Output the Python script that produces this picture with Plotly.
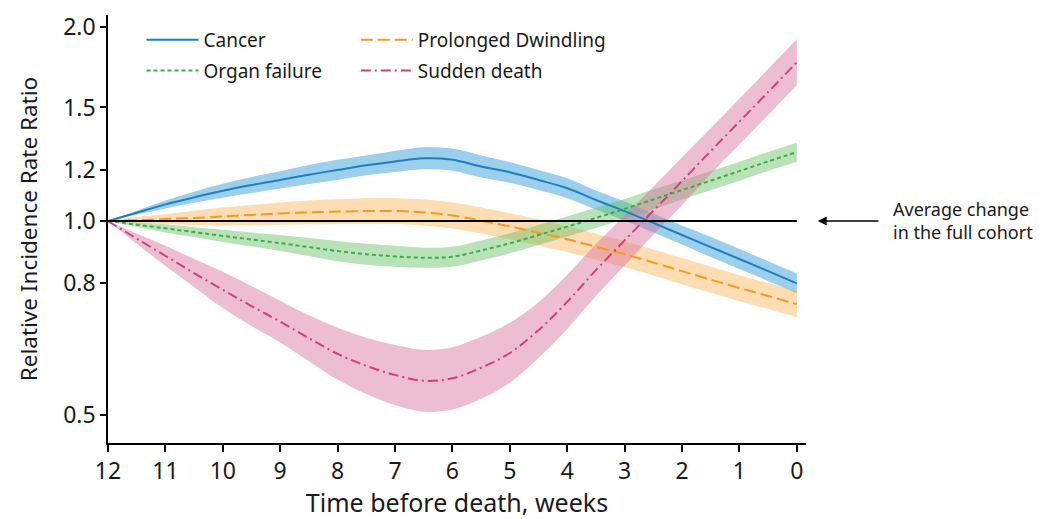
import plotly.graph_objects as go

weeks = [12, 11.5, 11, 10.5, 10, 9.5, 9, 8.5, 8, 7.5, 7, 6.5, 6, 5.5, 5, 4.5, 4, 3.5, 3, 2.5, 2, 1.5, 1, 0.5, 0]

cancer = [1.000, 1.030, 1.061, 1.088, 1.114, 1.137, 1.158, 1.180, 1.200, 1.220, 1.237, 1.251, 1.245,
          1.215, 1.190, 1.158, 1.124, 1.078, 1.036, 0.993, 0.951, 0.911, 0.873, 0.836, 0.800]
cancer_lo = [1.000, 1.023, 1.046, 1.067, 1.087, 1.105, 1.123, 1.141, 1.158, 1.177, 1.191, 1.203, 1.197,
             1.168, 1.146, 1.117, 1.085, 1.042, 1.001, 0.960, 0.919, 0.879, 0.842, 0.807, 0.772]
cancer_hi = [1.000, 1.037, 1.076, 1.110, 1.142, 1.170, 1.194, 1.221, 1.244, 1.264, 1.284, 1.301, 1.295,
             1.264, 1.235, 1.200, 1.165, 1.115, 1.072, 1.027, 0.984, 0.944, 0.905, 0.866, 0.829]

dwindling = [1.000, 1.003, 1.007, 1.011, 1.016, 1.022, 1.027, 1.031, 1.034, 1.036, 1.036, 1.031, 1.020,
             1.001, 0.981, 0.959, 0.937, 0.912, 0.888, 0.862, 0.836, 0.811, 0.787, 0.765, 0.743]
dwindling_lo = [1.000, 0.992, 0.989, 0.986, 0.984, 0.986, 0.987, 0.988, 0.989, 0.989, 0.989, 0.984, 0.974,
                0.956, 0.937, 0.916, 0.895, 0.871, 0.848, 0.823, 0.798, 0.774, 0.751, 0.730, 0.709]
dwindling_hi = [1.000, 1.014, 1.025, 1.037, 1.049, 1.059, 1.068, 1.076, 1.081, 1.085, 1.085, 1.080, 1.068,
                1.049, 1.028, 1.005, 0.982, 0.955, 0.930, 0.903, 0.876, 0.850, 0.824, 0.801, 0.778]

organ = [1.000, 0.987, 0.974, 0.961, 0.948, 0.936, 0.924, 0.911, 0.898, 0.888, 0.881, 0.877, 0.880,
         0.900, 0.923, 0.951, 0.980, 1.011, 1.044, 1.080, 1.117, 1.155, 1.195, 1.237, 1.279]
organ_lo = [1.000, 0.980, 0.960, 0.944, 0.928, 0.913, 0.898, 0.882, 0.866, 0.855, 0.849, 0.846, 0.849,
            0.868, 0.891, 0.918, 0.946, 0.975, 1.007, 1.042, 1.080, 1.116, 1.155, 1.196, 1.236]
organ_hi = [1.000, 0.994, 0.988, 0.978, 0.969, 0.960, 0.951, 0.941, 0.931, 0.922, 0.915, 0.909, 0.912,
            0.933, 0.957, 0.986, 1.016, 1.048, 1.082, 1.119, 1.156, 1.195, 1.236, 1.280, 1.323]

sudden = [1.000, 0.939, 0.883, 0.830, 0.782, 0.738, 0.698, 0.658, 0.622, 0.596, 0.577, 0.565, 0.570,
          0.592, 0.624, 0.677, 0.749, 0.839, 0.933, 1.037, 1.153, 1.284, 1.426, 1.585, 1.763]
sudden_lo = [1.000, 0.922, 0.852, 0.790, 0.733, 0.687, 0.648, 0.606, 0.567, 0.539, 0.518, 0.506, 0.510,
             0.530, 0.561, 0.613, 0.680, 0.765, 0.853, 0.952, 1.058, 1.183, 1.314, 1.460, 1.624]
sudden_hi = [1.000, 0.956, 0.915, 0.873, 0.834, 0.793, 0.752, 0.714, 0.683, 0.659, 0.642, 0.631, 0.637,
             0.661, 0.695, 0.748, 0.825, 0.921, 1.020, 1.130, 1.256, 1.393, 1.548, 1.721, 1.914]

x_ticks = [12, 11, 10, 9, 8, 7, 6, 5, 4, 3, 2, 1, 0]
y_ticks = [0.5, 0.8, 1.0, 1.2, 1.5, 2.0]
y_tick_text = ["0.5", "0.8", "1.0", "1.2", "1.5", "2.0"]

FONT = "Noto Sans"
TXT = "#1a1a1a"

series = [
    ("Cancer", cancer, cancer_lo, cancer_hi, "#1f7fc3", "rgba(58,160,215,0.5)", "solid", "legend"),
    ("Prolonged Dwindling", dwindling, dwindling_lo, dwindling_hi, "#f29a26", "rgba(250,175,70,0.42)", "12px,5px", "legend2"),
    ("Organ failure", organ, organ_lo, organ_hi, "#3aae45", "rgba(100,190,100,0.45)", "4px,3px", "legend"),
    ("Sudden death", sudden, sudden_lo, sudden_hi, "#d2407a", "rgba(215,110,155,0.45)", "10px,4px,2px,4px", "legend2"),
]

fig = go.Figure()
for name, est, lo, hi, col, band, dash, leg in series:
    fig.add_trace(go.Scatter(x=weeks, y=hi, mode="lines", line=dict(width=0, shape="spline", smoothing=1.0),
                             showlegend=False, hoverinfo="skip"))
    fig.add_trace(go.Scatter(x=weeks, y=lo, mode="lines", line=dict(width=0, shape="spline", smoothing=1.0),
                             fill="tonexty", fillcolor=band, showlegend=False, hoverinfo="skip"))

for name, est, lo, hi, col, band, dash, leg in series:
    fig.add_trace(go.Scatter(x=weeks, y=est, mode="lines", name=name, legend=leg, legendgroup=name,
                             line=dict(color=col, width=2, dash=dash, shape="spline", smoothing=1.0)))

fig.add_shape(type="line", xref="x", yref="y", x0=12, x1=0, y0=1.0, y1=1.0,
              line=dict(color="black", width=2), layer="above")

fig.add_annotation(xref="paper", yref="y", x=1.017, y=0, text="", showarrow=True,
                   ax=62, ay=0, axref="pixel", ayref="pixel",
                   arrowhead=2, arrowsize=1.1, arrowwidth=1.6, arrowcolor="black")
fig.add_annotation(xref="paper", yref="y", x=1.122, y=0, text="Average change<br>in the full cohort",
                   showarrow=False, xanchor="left", yanchor="middle", align="left",
                   font=dict(family=FONT, size=18, color=TXT))

legend_common = dict(xanchor="left", yanchor="top", bgcolor="rgba(0,0,0,0)",
                     font=dict(family=FONT, size=19, color=TXT), tracegroupgap=3,
                     orientation="v", itemwidth=52)

fig.update_layout(
    width=1034, height=511,
    margin=dict(l=100, r=236, t=7, b=76),
    paper_bgcolor="white", plot_bgcolor="white",
    font=dict(family=FONT, color=TXT),
    legend=dict(x=0.048, y=0.986, **legend_common),
    legend2=dict(x=0.355, y=0.986, **legend_common),
    xaxis=dict(range=[12, -0.16], tickvals=x_ticks, ticktext=[str(v) for v in x_ticks],
               showgrid=False, zeroline=False, showline=True, linecolor="black", linewidth=1.5,
               ticks="outside", ticklen=7, tickwidth=1.5, tickcolor="black", automargin=False,
               tickfont=dict(family=FONT, size=23, color=TXT),
               title=dict(text="Time before death, weeks", font=dict(family=FONT, size=25, color=TXT),
                          standoff=15)),
    yaxis=dict(type="log", range=[-0.3445, 0.3196], tickvals=y_ticks, ticktext=y_tick_text,
               showgrid=False, zeroline=False, showline=True, linecolor="black", linewidth=1.5,
               ticks="outside", ticklen=6, tickwidth=1.5, tickcolor="black", automargin=False,
               tickfont=dict(family=FONT, size=23, color=TXT),
               title=dict(text="Relative Incidence Rate Ratio", font=dict(family=FONT, size=22.5, color=TXT),
                          standoff=19)),
)

fig.write_html("out.html")
